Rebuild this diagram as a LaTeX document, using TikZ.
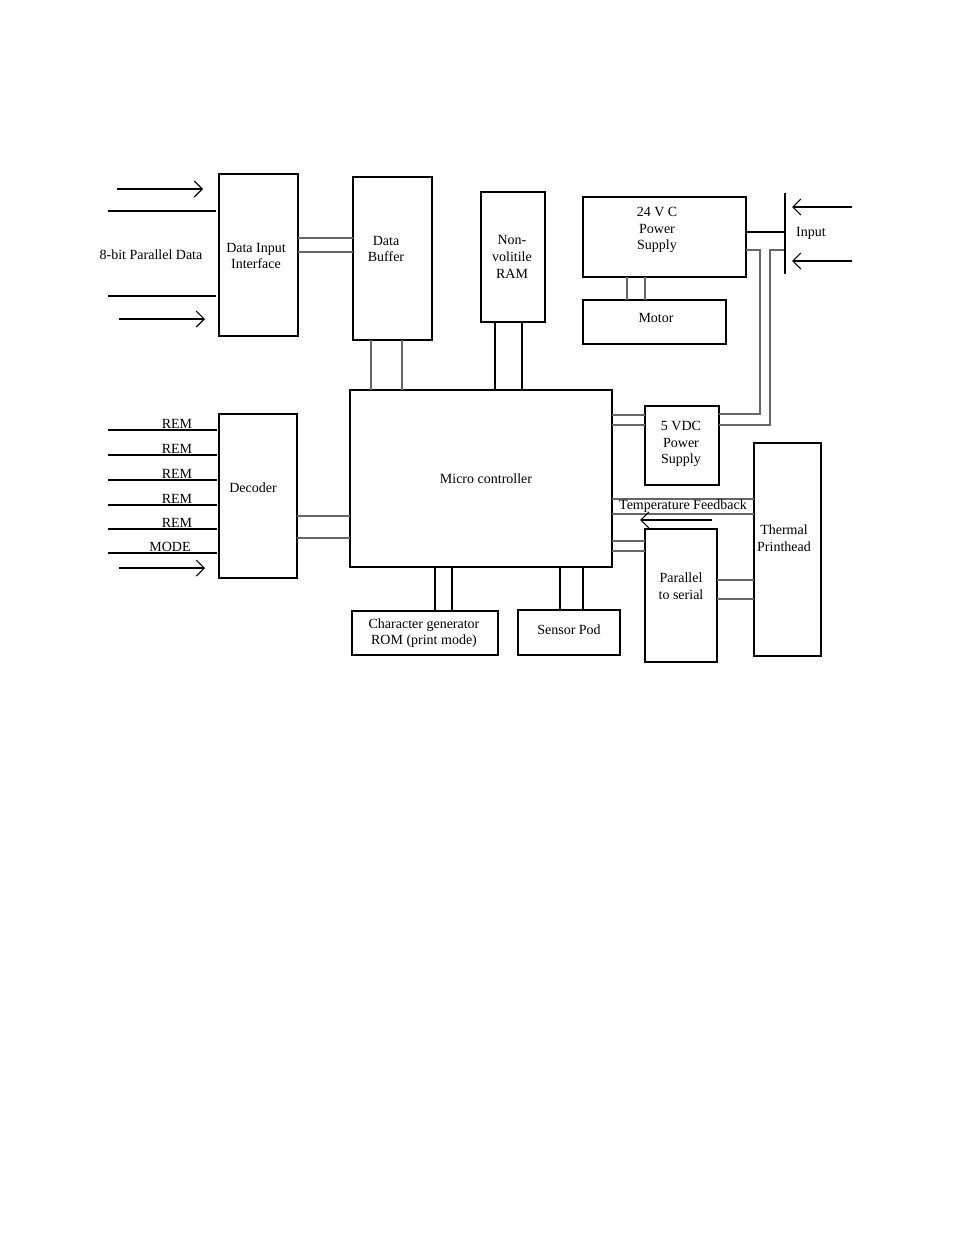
\documentclass[tikz,border=0pt]{standalone}
\usepackage{fontspec}
\setmainfont{Liberation Serif}
\usetikzlibrary{arrows.meta}
\begin{document}
\begin{tikzpicture}[x=0.75pt,y=-0.75pt,
  blk/.style={draw,line width=1.3pt},
  lbl/.style={font=\fontsize{10.5}{12.5}\selectfont,align=center,inner sep=0pt},
  wire/.style={draw=black!60,line width=0.8pt},
  bwire/.style={draw,line width=1pt},
  arr/.style={line width=0.8pt,-{Straight Barb[length=6pt,width=12pt]}}]
\useasboundingbox (0,0) rectangle (954,1235);
\fill[white] (0,0) rectangle (954,1235);
% boxes
\draw[blk] (219,174) rectangle (298,336); \node[lbl] (dii) at (256,256) {Data Input\\Interface};
\draw[blk] (353,177) rectangle (432,340); \node[lbl] (db) at (386,249) {Data\\Buffer};
\draw[blk] (481,192) rectangle (545,322); \node[lbl] (nvr) at (512,257) {Non-\\volitile\\RAM};
\draw[blk] (583,197) rectangle (746,277); \node[lbl] (ps) at (657,230) {24 V C\\Power\\Supply};
\draw[blk] (583,300) rectangle (726,344); \node[lbl] (mot) at (656,318) {Motor};
\draw[blk] (350,390) rectangle (612,567); \node[lbl] (mc) at (486,479) {Micro controller};
\draw[blk] (645,406) rectangle (719,485); \node[lbl] (v5) at (681,444) {5 VDC\\Power\\Supply};
\draw[blk] (754,443) rectangle (821,656); \node[lbl] (th) at (784,538) {Thermal\\Printhead};
\draw[blk] (219,414) rectangle (297,578); \node[lbl] (dec) at (253,488) {Decoder};
\draw[blk] (352,611) rectangle (498,655); \node[lbl] (cg) at (424,633) {Character generator\\ROM (print mode)};
\draw[blk] (518,610) rectangle (620,655); \node[lbl] (sp) at (569,630) {Sensor Pod};
\draw[blk] (645,529) rectangle (717,662); \node[lbl] (ps2) at (681,586) {Parallel\\to serial};
% double connectors
\draw[wire] (298,238)--(353,238) (298,252)--(353,252);
\draw[wire] (371,340)--(371,390) (402,340)--(402,390);
\draw[bwire] (495,322)--(495,390) (522,322)--(522,390);
\draw[wire] (627,277)--(627,300) (645,277)--(645,300);
\draw[bwire] (746,232)--(785,232);
\draw[wire] (746,250)--(760,250)--(760,414)--(719,414);
\draw[wire] (785,250)--(770,250)--(770,425)--(719,425);
\draw[wire] (612,415)--(645,415) (612,425)--(645,425);
\draw[wire] (612,499)--(754,499) (612,514)--(754,514);
\node[lbl,anchor=south] (tf) at (683,513) {Temperature Feedback};
\coordinate (ta) at (712,520); \coordinate (tb) at (640,520);
\draw[arr] (ta)--(tb);
\draw[wire] (612,541)--(645,541) (612,551)--(645,551);
\draw[wire] (717,580)--(754,580) (717,599)--(754,599);
\draw[wire] (297,516)--(350,516) (297,538)--(350,538);
\draw[bwire] (435,567)--(435,611) (452,567)--(452,611);
\draw[bwire] (560,567)--(560,610) (583,567)--(583,610);
% input bar
\draw[line width=1.2pt] (785,193)--(785,274);
\node[lbl] (inp) at (811,233) {Input};
\draw[arr] (852,207)--(792,207);
\draw[arr] (852,261)--(792,261);
% left inputs
\draw[arr] (117,189)--(203,189);
\draw[bwire] (108,211)--(216,211) (108,296)--(216,296);
\draw[arr] (119,319)--(205,319);
\node[lbl] (pd) at (151,255) {8-bit Parallel Data};
\foreach \y/\t in {430/REM,455/REM,480/REM,505/REM,529/REM}{
  \draw[bwire] (108,\y)--(217,\y);
  \node[lbl,anchor=south] at (177,\y-1) {\t};}
\draw[bwire] (108,553)--(217,553);
\node[lbl,anchor=south] (md) at (170,552) {MODE};
\draw[arr] (119,568)--(205,568);
\end{tikzpicture}
\end{document}
